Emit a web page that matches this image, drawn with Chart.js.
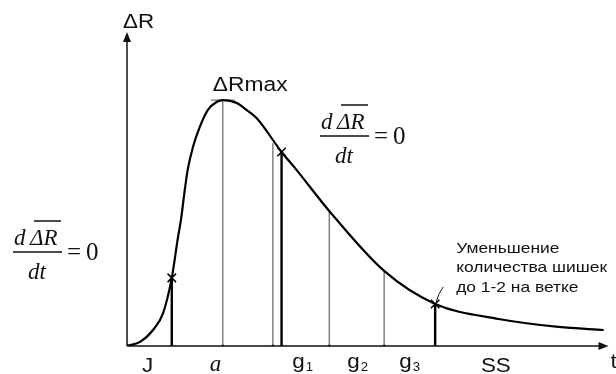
<!DOCTYPE html>
<html>
<head>
<meta charset="utf-8">
<script src="https://cdn.jsdelivr.net/npm/chart.js@4"></script>
<style>
  html, body { margin: 0; padding: 0; background: #fff; }
  #chart { display: block; }
</style>
</head>
<body>
<canvas id="chart" width="616" height="374"></canvas>
<script>
// curve ΔR(t) (t and ΔR in arbitrary units, 0..100)
const curveT = [0, 2.7, 5.4, 7.5, 9.3, 10.6, 11.2, 12.0, 12.6, 13.7, 15.1, 16.8, 18.6, 19.9, 22.8, 24.8, 26.9, 32.1, 35.2, 42.0, 53.4, 64.0, 77.2, 89.6, 99.0];
const curveR = [0, 1.3, 5.1, 10.5, 21.7, 34.7, 40.1, 49.7, 56.1, 63.4, 69.7, 75.2, 77.7, 78.3, 77.4, 75.2, 72.6, 61.8, 56.1, 43.0, 23.9, 13.4, 8.6, 6.1, 5.1];

// vertical boundaries dropped from the curve
const boundT = [9.3, 19.9, 30.3, 32.1, 42.0, 53.4, 64.0];
const boundR = [21.7, 78.3, 64.6, 61.8, 43.0, 23.9, 13.4];

// points marked with a cross (dR/dt = 0 and the SS start)
const crossT = [9.3, 32.1, 64.0];
const crossR = [21.7, 61.8, 13.4];

// peak
const peakT = 19.9;
const peakR = 78.3;

// phase names under the t axis
const zoneNames = ['J', 'a', 'g1', 'g2', 'g3', 'SS'];
const zoneT = [4.3, 18.4, 36.2, 47.6, 58.4, 76.6];

const noteLines = ['Уменьшение', 'количества шишек', 'до 1-2 на ветке'];

const SANS = '"Liberation Sans", Arial, sans-serif';
const SERIF = '"Liberation Serif", "Times New Roman", serif';

function stretchText(ctx, s, x, y, font, sx) {
    ctx.save();
    ctx.translate(x, y);
    ctx.scale(sx, 1);
    ctx.font = font;
    ctx.fillText(s, 0, 0);
    ctx.restore();
}

function drawFormula(ctx, x0, yb) {
    ctx.save();
    ctx.fillStyle = '#111';
    ctx.strokeStyle = '#111';
    ctx.textAlign = 'left';
    ctx.textBaseline = 'alphabetic';
    ctx.font = 'italic 23px ' + SERIF;
    ctx.fillText('d', x0 + 1, yb - 7);
    ctx.fillText('ΔR', x0 + 17, yb - 7);
    ctx.fillText('dt', x0 + 15, yb + 27);
    ctx.lineWidth = 1.3;
    ctx.beginPath();
    ctx.moveTo(x0 + 21, yb - 31);
    ctx.lineTo(x0 + 48, yb - 31);
    ctx.moveTo(x0, yb);
    ctx.lineTo(x0 + 49, yb);
    ctx.stroke();
    ctx.font = '25px ' + SERIF;
    ctx.fillText('=', x0 + 54, yb + 8);
    ctx.fillText('0', x0 + 73, yb + 8);
    ctx.restore();
}

const decorPlugin = {
    id: 'decor',
    afterDraw(chart) {
        const ctx = chart.ctx;
        const xs = chart.scales.x;
        const ys = chart.scales.y;
        const area = chart.chartArea;
        const ox = xs.getPixelForValue(0);
        const oy = ys.getPixelForValue(0);

        // axes with arrows
        ctx.save();
        ctx.strokeStyle = '#111';
        ctx.fillStyle = '#111';
        ctx.lineWidth = 1.5;
        ctx.beginPath();
        ctx.moveTo(ox, oy);
        ctx.lineTo(area.right - 6, oy);
        ctx.moveTo(ox, oy);
        ctx.lineTo(ox, area.top + 6);
        ctx.stroke();
        ctx.beginPath();
        ctx.moveTo(area.right, oy);
        ctx.lineTo(area.right - 10, oy - 4);
        ctx.lineTo(area.right - 10, oy + 4);
        ctx.closePath();
        ctx.fill();
        ctx.beginPath();
        ctx.moveTo(ox, area.top);
        ctx.lineTo(ox - 4, area.top + 10);
        ctx.lineTo(ox + 4, area.top + 10);
        ctx.closePath();
        ctx.fill();
        ctx.restore();

        ctx.save();
        ctx.fillStyle = '#111';
        ctx.textBaseline = 'alphabetic';
        ctx.textAlign = 'left';

        // axis titles
        stretchText(ctx, 'ΔR', ox - 4, area.top - 4, '20px ' + SANS, 1.12);
        stretchText(ctx, 't', area.right + 2, oy + 22, '20px ' + SANS, 1.12);

        // peak label
        const px = xs.getPixelForValue(peakT);
        const py = ys.getPixelForValue(peakR);
        stretchText(ctx, 'ΔRmax', px - 10, py - 9, '20px ' + SANS, 1.14);

        // phase labels
        zoneNames.forEach((name, i) => {
            const cx = xs.getPixelForValue(zoneT[i]);
            const base = oy + 26;
            if (name === 'a') {
                ctx.font = 'italic 23px ' + SERIF;
                ctx.textAlign = 'center';
                ctx.fillText(name, cx, base - 1);
                ctx.textAlign = 'left';
            } else if (name.length === 2 && name[0] === 'g') {
                ctx.font = '20px ' + SANS;
                const w = ctx.measureText('g').width * 1.12;
                stretchText(ctx, 'g', cx - 9, base - 4, '20px ' + SANS, 1.12);
                stretchText(ctx, name[1], cx - 9 + w + 1, base - 1, '12px ' + SANS, 1.1);
            } else {
                ctx.font = '20px ' + SANS;
                const w = ctx.measureText(name).width * 1.12;
                stretchText(ctx, name, cx - w / 2, base, '20px ' + SANS, 1.12);
            }
        });

        // note near the SS start
        const sx = xs.getPixelForValue(crossT[2]);
        const sy = ys.getPixelForValue(crossR[2]);
        noteLines.forEach((line, i) => {
            stretchText(ctx, line, sx + 21, sy - 51 + i * 19.5, '15px ' + SANS, 1.16);
        });
        ctx.strokeStyle = '#111';
        ctx.lineWidth = 1;
        ctx.beginPath();
        ctx.moveTo(sx + 8, sy - 17);
        ctx.quadraticCurveTo(sx + 3, sy - 10, sx + 1, sy - 2);
        ctx.stroke();
        ctx.restore();

        // derivative formulas
        drawFormula(ctx, 13, 252);
        drawFormula(ctx, 320, 136);
    }
};

const datasets = [];

datasets.push({
    data: curveT.map((t, i) => ({ x: t, y: curveR[i] })),
    borderColor: '#000',
    borderWidth: 2.2,
    pointRadius: 0,
    cubicInterpolationMode: 'monotone',
    showLine: true,
    fill: false
});

boundT.forEach((t, i) => {
    const thick = crossT.includes(t);
    datasets.push({
        data: [{ x: t, y: 0 }, { x: t, y: boundR[i] }],
        borderColor: thick ? '#000' : '#444',
        borderWidth: thick ? 2.4 : 1,
        pointRadius: [1.6, 0],
        pointBackgroundColor: '#111',
        pointBorderWidth: 0,
        showLine: true,
        fill: false
    });
});

datasets.push({
    data: [{ x: peakT - 2.5, y: peakR }, { x: peakT + 2.5, y: peakR }],
    borderColor: '#555',
    borderWidth: 1,
    pointRadius: 0,
    showLine: true
});

datasets.push({
    data: crossT.map((t, i) => ({ x: t, y: crossR[i] })),
    pointStyle: 'crossRot',
    pointRadius: 6,
    pointBorderColor: '#000',
    pointBorderWidth: 1.5,
    showLine: false
});

new Chart(document.getElementById('chart'), {
    type: 'scatter',
    data: { datasets: datasets },
    options: {
        responsive: false,
        animation: false,
        layout: { padding: { left: 127, right: 6, top: 32, bottom: 28 } },
        scales: {
            x: { type: 'linear', min: 0, max: 100, display: false },
            y: { type: 'linear', min: 0, max: 100, display: false }
        },
        plugins: {
            legend: { display: false },
            tooltip: { enabled: false }
        },
        elements: { line: { borderCapStyle: 'butt' } }
    },
    plugins: [decorPlugin]
});
</script>
</body>
</html>
